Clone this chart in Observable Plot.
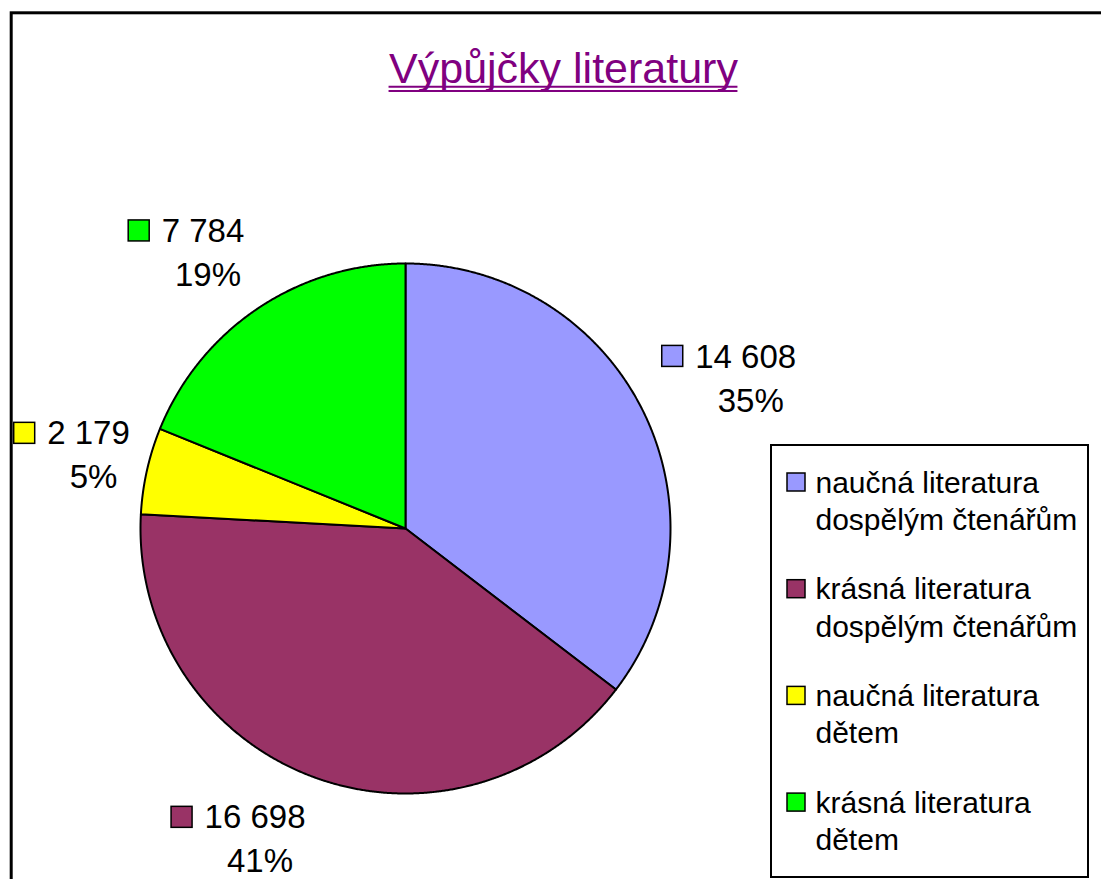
<!DOCTYPE html>
<html><head><meta charset="utf-8">
<script src="https://cdn.jsdelivr.net/npm/d3@7"></script>
<script src="https://cdn.jsdelivr.net/npm/@observablehq/plot@0.6"></script>
<style>html,body{margin:0;padding:0;background:#fff;overflow:hidden}</style>
</head><body><div id="chart"></div>
<script>
// ---- data ----
const title = "Výpůjčky literatury";
const categories = [
  "naučná literatura dospělým čtenářům",
  "krásná literatura dospělým čtenářům",
  "naučná literatura dětem",
  "krásná literatura dětem"
];
const values = [14608, 16698, 2179, 7784];
const percentLabels = ["35%", "41%", "5%", "19%"];
const colors = ["#9999FF", "#993366", "#FFFF00", "#00FF00"];

// ---- layout ----
const W = 1101, H = 879;
const FONT = "'Liberation Sans', Arial, sans-serif";
const cx = 405, cy = 528, R = 265;
const numSize = 33, lineGap = 44, keySize = 21, keyGap = 10;
const capH = 0.716 * numSize;
const legend = {x1: 771, x2: 1088, y1: 445, y2: 877, keyX: 787, key: 18, textX: 815,
                firstBaseline: 492, lineGap: 37.5, itemGap: 106.7, fontSize: 30};
const titleSize = 43, titleX = 563, titleBaseline = 82;

const ctx = document.createElement("canvas").getContext("2d");
function textWidth(s, size) { ctx.font = `${size}px ${FONT}`; return ctx.measureText(s).width; }
const clamp01 = v => Math.max(0, Math.min(1, v));
const fmt = d3.formatLocale({thousands: "\u00a0", grouping: [3], decimal: ",", currency: ["", ""]}).format(",d");

const arcs = d3.pie().sort(null).value(d => d)(values);

// slice polygons
const slicePts = [];
arcs.forEach((a, i) => {
  const cat = categories[i];
  slicePts.push({cat, x: cx, y: cy});
  const n = Math.max(2, Math.ceil((a.endAngle - a.startAngle) / (Math.PI / 720)));
  for (let k = 0; k <= n; k++) {
    const t = a.startAngle + (a.endAngle - a.startAngle) * k / n;
    slicePts.push({cat, x: cx + R * Math.sin(t), y: cy - R * Math.cos(t)});
  }
});

// data labels: anchored outside the slice at its mid-angle
const labels = arcs.map((a, i) => {
  const mid = (a.startAngle + a.endAngle) / 2;
  const s = Math.sin(mid), c = Math.cos(mid);
  const d = 284 + 12 * c * c;
  const px = cx + d * s, py = cy - d * c;
  const num = fmt(values[i]);
  const tw = textWidth(num, numSize);
  const bw = keySize + keyGap + tw, bh = capH + lineGap;
  const left = px - clamp01(0.5 - 1.5 * s) * bw;
  const top = py - clamp01(0.5 + 0.8 * c) * bh;
  return {cat: categories[i], num, pct: percentLabels[i], left,
          keyTop: top + 2, textX: left + keySize + keyGap + tw / 2 + 2,
          numBase: top + capH, pctBase: top + capH + lineGap};
});

// legend entries
const legendItems = categories.map((cat, i) => {
  const cut = cat.indexOf(" ", cat.indexOf("literatura"));
  const base = legend.firstBaseline + i * legend.itemGap;
  return {cat, line1: cat.slice(0, cut), line2: cat.slice(cut + 1), base};
});
const legendLines = legendItems.flatMap(d => [
  {text: d.line1, base: d.base}, {text: d.line2, base: d.base + legend.lineGap}
]);

const titleW = textWidth(title, titleSize);

const chart = Plot.plot({
  width: W, height: H,
  margin: 0,
  style: {fontFamily: FONT, background: "white"},
  x: {type: "linear", domain: [0, W], range: [0, W], axis: null},
  y: {type: "linear", domain: [0, H], range: [0, H], axis: null},
  color: {domain: categories, range: colors},
  marks: [
    Plot.frame({stroke: "black", strokeWidth: 3, insetLeft: 10.7, insetTop: 12.3, insetRight: -20, insetBottom: -20}),
    // title
    Plot.text([title], {x: titleX, y: titleBaseline - 0.32 * titleSize, text: d => d,
      fontSize: titleSize, fill: "#800080", textAnchor: "middle"}),
    Plot.ruleY([titleBaseline + 4.3, titleBaseline + 8.6], {x1: titleX - titleW / 2, x2: titleX + titleW / 2,
      stroke: "#800080", strokeWidth: 2}),
    // pie
    Plot.line(slicePts, {x: "x", y: "y", z: "cat", fill: "cat", stroke: "black",
      strokeWidth: 2, strokeLinejoin: "round", curve: "linear-closed"}),
    // data labels
    Plot.rect(labels, {x1: d => d.left, x2: d => d.left + keySize, y1: d => d.keyTop, y2: d => d.keyTop + keySize,
      fill: "cat", stroke: "black", strokeWidth: 1.5}),
    Plot.text(labels, {x: "textX", y: d => d.numBase - 0.32 * numSize, text: "num",
      fontSize: numSize, fill: "black", textAnchor: "middle"}),
    Plot.text(labels, {x: d => d.textX + 5, y: d => d.pctBase - 0.32 * numSize, text: "pct",
      fontSize: numSize, fill: "black", textAnchor: "middle"}),
    // legend
    Plot.rect([legend], {x1: "x1", x2: "x2", y1: "y1", y2: "y2", fill: "white", stroke: "black", strokeWidth: 2}),
    Plot.rect(legendItems, {x1: legend.keyX, x2: legend.keyX + legend.key,
      y1: d => d.base - 19, y2: d => d.base - 19 + legend.key, fill: "cat", stroke: "black", strokeWidth: 1.5}),
    Plot.text(legendLines, {x: legend.textX, y: d => d.base - 0.32 * legend.fontSize, text: "text",
      fontSize: legend.fontSize, fill: "black", textAnchor: "start"})
  ]
});
document.getElementById("chart").appendChild(chart);
</script>
</body></html>
